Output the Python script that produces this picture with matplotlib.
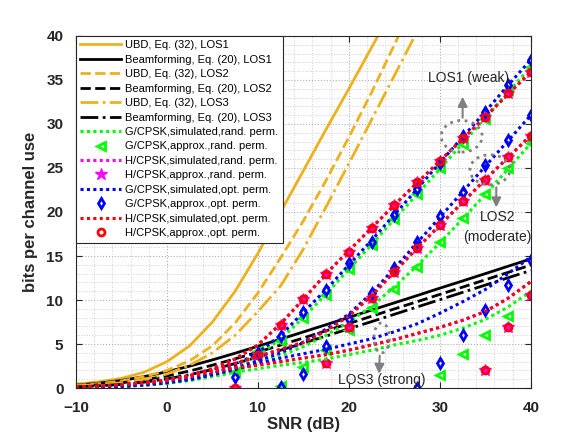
import numpy as np
import matplotlib
matplotlib.use("Agg")
import matplotlib.pyplot as plt
from matplotlib.patches import Ellipse

plt.rcParams['font.family'] = ['Liberation Sans', 'DejaVu Sans']

nan = np.nan

# upper bounds / beamforming (dB grid every 2.5)
snr_ubd = [-10, -7.5, -5, -2.5, 0, 2.5, 5, 7.5, 10, 12.5, 15, 17.5, 20, 22.5, 25, 27.5, 30]
ubd_los1 = [0.45, 0.7, 1.1, 1.8, 3.0, 4.8, 7.5, 11.0, 15.3, 20.0, 24.7, 29.4, 34.0, 38.7, 43.4, 48.0, 52.7]
ubd_los2 = [0.3, 0.5, 0.8, 1.3, 2.0, 3.1, 4.8, 7.4, 10.8, 14.8, 19.0, 23.6, 28.5, 33.6, 39.0, 44.5, 50.0]
ubd_los3 = [0.25, 0.4, 0.6, 1.0, 1.6, 2.6, 4.0, 6.0, 8.7, 11.6, 15.8, 20.6, 25.5, 30.5, 35.5, 40.5, 45.5]

snr = [-10, -7.5, -5, -2.5, 0, 2.5, 5, 7.5, 10, 12.5, 15, 17.5, 20, 22.5, 25, 27.5, 30, 32.5, 35, 37.5, 40]
bf_los1 = [0.33, 0.55, 0.86, 1.30, 1.85, 2.49, 3.20, 3.96, 4.75, 5.56, 6.38, 7.20, 8.03, 8.86, 9.68, 10.51, 11.35, 12.17, 13.0, 13.84, 14.67]
bf_los2 = [0.21, 0.36, 0.59, 0.93, 1.38, 1.94, 2.60, 3.32, 4.09, 4.88, 5.69, 6.51, 7.33, 8.16, 8.99, 9.81, 10.64, 11.47, 12.30, 13.14, 13.97]
bf_los3 = [0.14, 0.25, 0.41, 0.67, 1.04, 1.52, 2.11, 2.79, 3.52, 4.30, 5.10, 5.91, 6.73, 7.55, 8.38, 9.21, 10.04, 10.87, 11.70, 12.53, 13.36]

# simulated (G/CPSK rand, H/CPSK, G/CPSK opt)
g_sim = {
    1: [0.05, 0.1, 0.2, 0.35, 0.6, 1.0, 1.5, 2.4, 3.7, 5.6, 8.0, 10.7, 13.5, 16.3, 19.2, 22.0, 24.9, 27.8, 30.7, 33.6, 36.5],
    2: [0.05, 0.1, 0.2, 0.35, 0.55, 0.9, 1.4, 2.0, 2.8, 3.7, 4.7, 6.0, 7.5, 9.3, 11.5, 13.9, 16.5, 19.2, 22.0, 24.9, 27.8],
    3: [0.05, 0.1, 0.2, 0.35, 0.55, 0.85, 1.3, 1.8, 2.2, 2.6, 2.9, 3.3, 3.8, 4.3, 4.9, 5.4, 6.0, 6.8, 7.8, 9.2, 11.0],
}
h_sim = {
    1: [0.1, 0.2, 0.35, 0.6, 0.9, 1.4, 2.2, 3.3, 4.9, 7.3, 10.1, 13.0, 15.6, 18.2, 20.8, 23.3, 25.8, 28.3, 30.8, 33.4, 35.9],
    2: [0.1, 0.2, 0.35, 0.6, 0.9, 1.4, 2.1, 2.8, 3.6, 4.4, 5.2, 6.5, 8.2, 10.5, 13.2, 15.9, 18.5, 21.1, 23.7, 26.2, 28.7],
    3: [0.1, 0.2, 0.35, 0.55, 0.85, 1.3, 1.8, 2.3, 2.6, 3.0, 3.4, 3.8, 4.3, 4.9, 5.5, 6.2, 6.9, 7.7, 8.7, 10.2, 12.1],
}
gopt_sim = {
    1: [0.05, 0.1, 0.2, 0.35, 0.6, 1.0, 1.6, 2.6, 4.0, 6.0, 8.6, 11.2, 14.0, 16.8, 19.7, 22.6, 25.6, 28.5, 31.4, 34.4, 37.3],
    2: [0.05, 0.1, 0.2, 0.35, 0.6, 1.0, 1.6, 2.3, 3.1, 4.0, 5.2, 6.7, 8.4, 10.8, 13.6, 16.5, 19.4, 22.3, 25.2, 28.1, 31.0],
    3: [0.05, 0.1, 0.2, 0.35, 0.6, 0.95, 1.5, 2.1, 2.8, 3.4, 3.9, 4.4, 5.0, 5.6, 6.4, 7.3, 8.5, 9.8, 11.2, 13.0, 14.9],
}

# approximations (markers)
snr_mk = [7.5, 10, 12.5, 15, 17.5, 20, 22.5, 25, 27.5, 30, 32.5, 35, 37.5, 40]
g_apx = {
    1: [1.8, 4.2, 5.4, 8.0, 10.6, 13.5, 16.2, 19.2, 22.0, 25.0, 27.7, 30.6, 33.9, 36.5],
    2: [nan, nan, 0.2, 2.4, 4.3, 6.6, 9.1, 11.3, 13.8, 16.6, 19.3, 22.1, 25.0, 27.8],
    3: [nan, nan, nan, nan, nan, nan, nan, nan, nan, 1.5, 3.9, 6.0, 8.2, 10.6],
}
h_apx = {
    1: [0.0, 3.8, 7.2, 10.1, 13.0, 15.5, 18.2, 20.8, 23.4, 25.8, 28.4, 30.8, 33.5, 35.9],
    2: [nan, nan, nan, nan, 2.9, 6.9, 10.2, 13.2, 15.9, 18.5, 21.2, 23.6, 26.2, 28.6],
    3: [nan, nan, nan, nan, nan, nan, nan, nan, nan, nan, nan, 2.0, 6.9, 10.6],
}
gopt_apx = {
    1: [1.3, 4.0, 5.9, 8.6, 11.1, 14.2, 16.6, 19.7, 22.6, 25.6, 28.6, 31.4, 34.4, 37.3],
    2: [nan, nan, 0.15, 1.6, 4.8, 7.9, 10.8, 13.6, 16.6, 19.5, 22.3, 25.3, 28.2, 31.0],
    3: [nan, nan, nan, nan, nan, nan, nan, nan, 0.05, 2.9, 6.0, 8.9, 11.7, 14.6],
}

orange = '#EDB120'
fig = plt.figure(figsize=(5.84, 4.38), dpi=100)
ax = fig.add_axes([0.13, 0.114, 0.779, 0.804])

lw = 2.0
ax.plot(snr_ubd, ubd_los1, '-', color=orange, lw=lw, label='UBD, Eq. (32), LOS1')
ax.plot(snr, bf_los1, '-', color='k', lw=lw, label='Beamforming, Eq. (20), LOS1')
ax.plot(snr_ubd, ubd_los2, '--', color=orange, lw=lw, label='UBD, Eq. (32), LOS2')
ax.plot(snr, bf_los2, '--', color='k', lw=lw, label='Beamforming, Eq. (20), LOS2')
ax.plot(snr_ubd, ubd_los3, '-.', color=orange, lw=lw, label='UBD, Eq. (32), LOS3')
ax.plot(snr, bf_los3, '-.', color='k', lw=lw, label='Beamforming, Eq. (20), LOS3')

dots = (1, 1.1)
mk = dict(ls='none', mew=2.0, mfc='none')
for i in (1, 2, 3):
    first = (i == 1)
    ax.plot(snr, g_sim[i], color='#00ff00', lw=2.2, dashes=dots,
            label='G/CPSK,simulated,rand. perm.' if first else '_nolegend_')
    ax.plot(snr_mk, g_apx[i], marker='<', color='#00ff00', ms=6, **mk,
            label='G/CPSK,approx.,rand. perm.' if first else '_nolegend_')
    ax.plot(snr, h_sim[i], color='#ff00ff', lw=2.2, dashes=dots,
            label='H/CPSK,simulated,rand. perm.' if first else '_nolegend_')
    ax.plot(snr_mk, h_apx[i], marker='*', color='#ff00ff', ls='none', ms=9,
            label='H/CPSK,approx.,rand. perm.' if first else '_nolegend_')
    ax.plot(snr, gopt_sim[i], color='#0000ff', lw=2.2, dashes=dots,
            label='G/CPSK,simulated,opt. perm.' if first else '_nolegend_')
    ax.plot(snr_mk, gopt_apx[i], marker='d', color='#0000ff', ms=5, **mk,
            label='G/CPSK,approx.,opt. perm.' if first else '_nolegend_')
    ax.plot(snr, h_sim[i], color='#ff0000', lw=2.2, dashes=dots,
            label='H/CPSK,simulated,opt. perm.' if first else '_nolegend_')
    ax.plot(snr_mk, h_apx[i], marker='o', color='#ff0000', ms=5, **mk,
            label='H/CPSK,approx.,opt. perm.' if first else '_nolegend_')

# annotations
gray = '#808080'
for (cx, cy, w, h) in [(32.4, 28.6, 4.5, 3.6), (35.5, 24.8, 4.4, 3.4), (23.6, 5.7, 1.7, 3.4)]:
    ax.add_patch(Ellipse((cx, cy), w, h, fill=False, ec=gray, lw=2, ls=':', zorder=5))
arr = dict(arrowstyle='-|>', color=gray, lw=1.5, mutation_scale=14)
ax.annotate('', xy=(32.5, 33.4), xytext=(32.5, 30.4), arrowprops=arr, zorder=6)
ax.annotate('', xy=(36.2, 20.2), xytext=(36.2, 23.1), arrowprops=arr, zorder=6)
ax.annotate('', xy=(23.3, 1.3), xytext=(23.4, 4.0), arrowprops=arr, zorder=6)
ax.text(33.1, 35.2, 'LOS1 (weak)', ha='center', va='center', fontsize=10, color='#262626')
ax.text(36.3, 19.4, 'LOS2', ha='center', va='center', fontsize=10, color='#262626')
ax.text(36.3, 17.2, '(moderate)', ha='center', va='center', fontsize=10, color='#262626')
ax.text(23.6, 0.9, 'LOS3 (strong)', ha='center', va='center', fontsize=10, color='#262626')

ax.set_xlim(-10, 40)
ax.set_ylim(0, 40)
ax.set_xticks(np.arange(-10, 41, 10))
ax.set_yticks(np.arange(0, 41, 5))
ax.set_xticks(np.arange(-10, 41, 2), minor=True)
ax.set_yticks(np.arange(0, 41, 1), minor=True)
ax.grid(True, which='major', ls=':', color='#b0b0b0', lw=0.8)
ax.grid(True, which='minor', ls=':', color='#cfcfcf', lw=0.7)
ax.tick_params(which='major', direction='in', top=True, right=True, length=4,
               labelsize=11, colors='#262626')
ax.tick_params(axis='x', which='major', pad=9)
ax.tick_params(axis='y', which='major', pad=9)
ax.tick_params(which='minor', length=0)
for t in ax.get_xticklabels() + ax.get_yticklabels():
    t.set_fontweight('bold')
for s in ax.spines.values():
    s.set_color('#262626')
    s.set_linewidth(0.8)
ax.set_xlabel('SNR (dB)', fontsize=12, fontweight='bold', color='#262626', labelpad=2)
ax.set_ylabel('bits per channel use', fontsize=12, fontweight='bold', color='#262626', labelpad=6)

leg = ax.legend(loc='upper left', borderaxespad=0, fontsize=8, handlelength=3.7,
                numpoints=1, labelspacing=0.4, borderpad=0.4, handletextpad=0.35,
                fancybox=False, framealpha=1, edgecolor='#262626')
leg.get_frame().set_linewidth(0.8)
leg.set_zorder(10)

fig.savefig('out.png', dpi=100, facecolor='white')
